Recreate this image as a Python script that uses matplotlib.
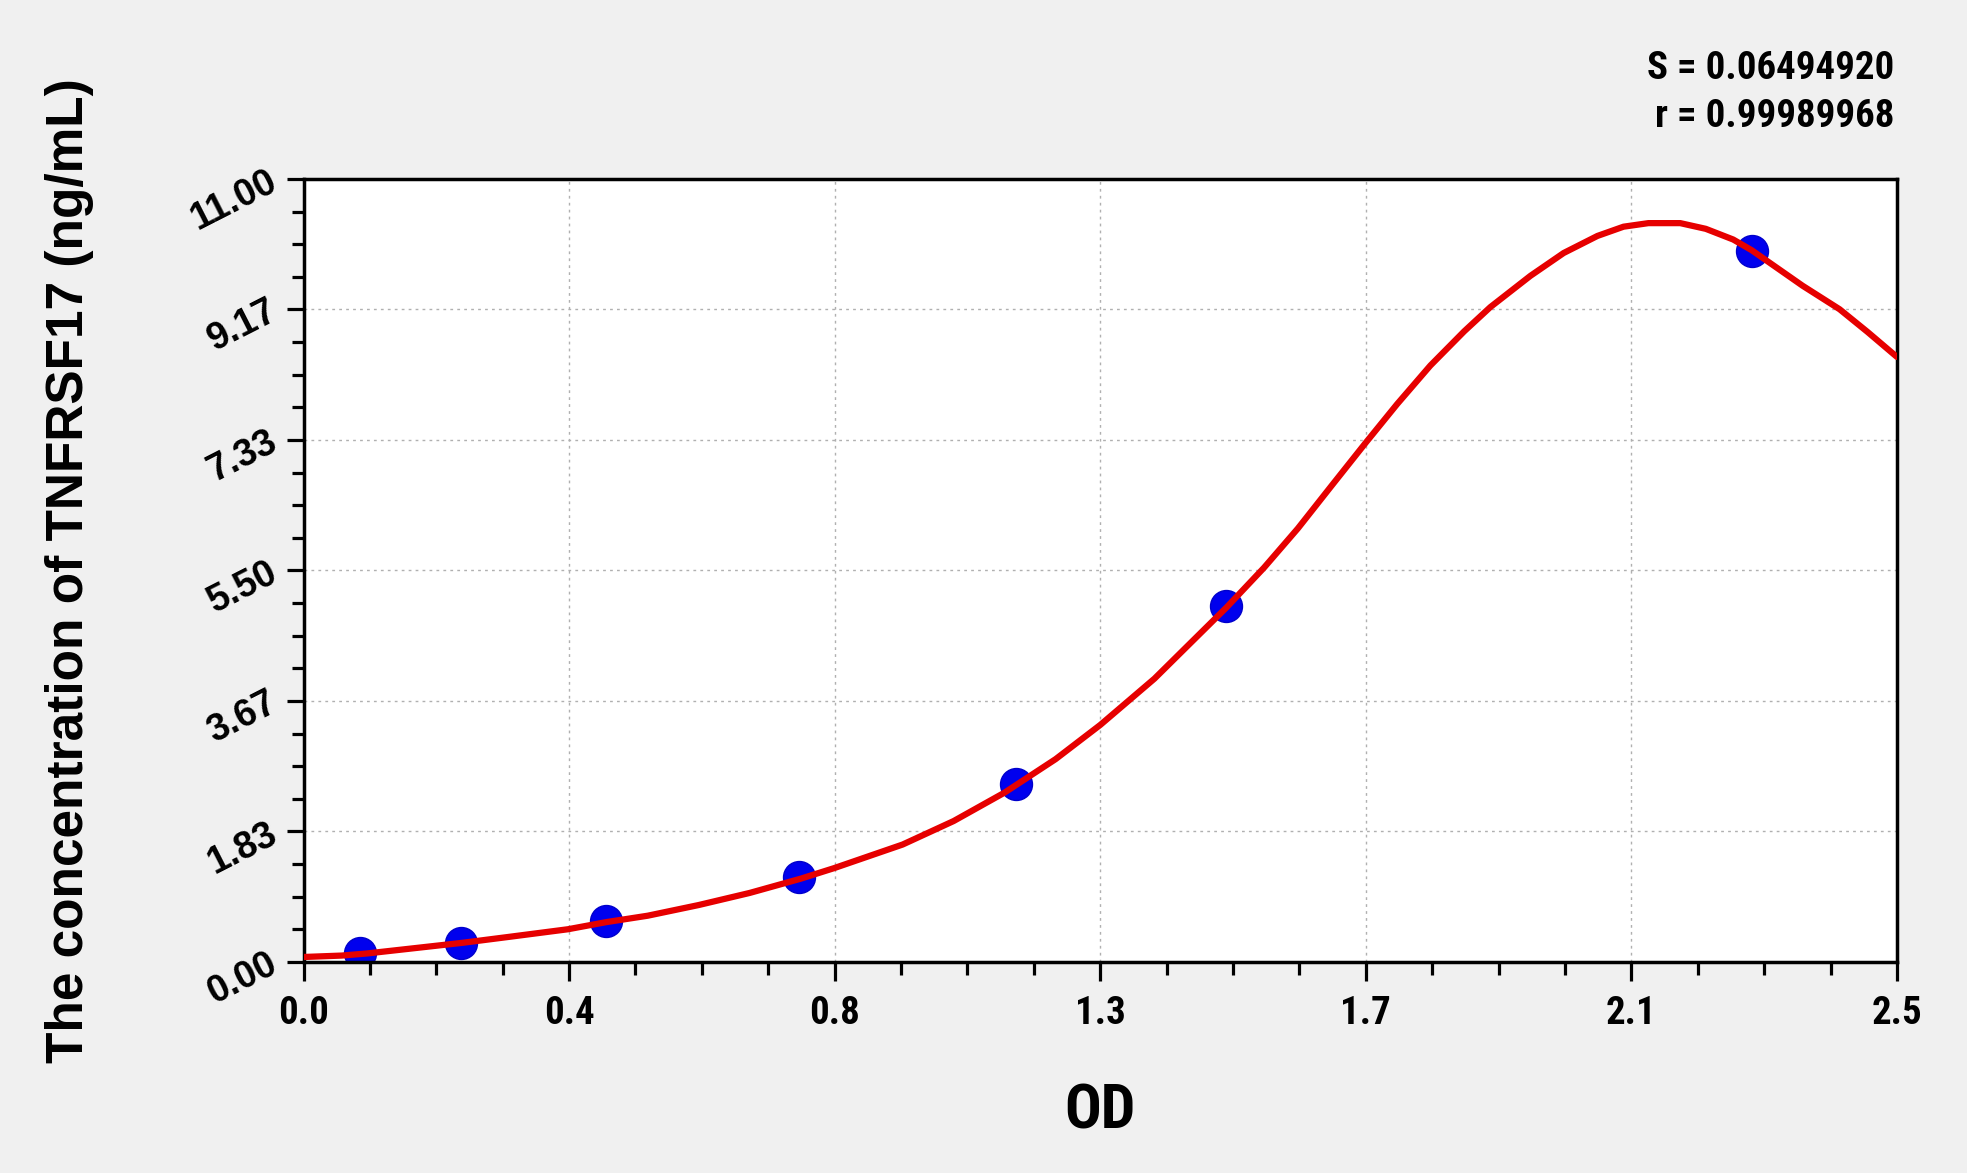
import matplotlib.pyplot as plt
from matplotlib.ticker import FixedLocator, MultipleLocator

# standard points
od = [0.088, 0.247, 0.475, 0.777, 1.118, 1.448, 2.272]
conc = [0.12, 0.26, 0.57, 1.20, 2.50, 5.00, 9.99]

# fitted curve as drawn in the chart
curve_od = [0.0, 0.06, 0.10, 0.19, 0.25, 0.32, 0.415, 0.475, 0.54, 0.62, 0.70,
            0.78, 0.833, 0.94, 1.02, 1.10, 1.18, 1.25, 1.335, 1.448, 1.507,
            1.56, 1.612, 1.667, 1.716, 1.768, 1.821, 1.862, 1.925, 1.977, 2.03,
            2.071, 2.11, 2.16, 2.20, 2.243, 2.272, 2.352, 2.41, 2.454, 2.5]
curve_conc = [0.07, 0.09, 0.12, 0.21, 0.27, 0.35, 0.46, 0.56, 0.65, 0.80, 0.97,
              1.17, 1.32, 1.65, 1.98, 2.38, 2.85, 3.33, 3.98, 4.98, 5.54,
              6.09, 6.68, 7.30, 7.84, 8.38, 8.86, 9.20, 9.64, 9.96, 10.20,
              10.33, 10.38, 10.38, 10.30, 10.15, 10.00, 9.50, 9.17, 8.85, 8.50]

x_ticks = [0.0, 2.5 / 6, 2 * 2.5 / 6, 3 * 2.5 / 6, 4 * 2.5 / 6, 5 * 2.5 / 6, 2.5]
x_labels = ['0.0', '0.4', '0.8', '1.3', '1.7', '2.1', '2.5']
y_ticks = [0.0, 11 / 6, 2 * 11 / 6, 3 * 11 / 6, 4 * 11 / 6, 5 * 11 / 6, 11.0]
y_labels = ['0.00', '1.83', '3.67', '5.50', '7.33', '9.17', '11.00']

narrow = ['Roboto Condensed', 'Liberation Sans', 'DejaVu Sans']
wide = ['Liberation Sans', 'DejaVu Sans']

fig = plt.figure(figsize=(19.67, 11.73), dpi=100, facecolor='#f0f0f0')
ax = fig.add_axes([0.1543, 0.1799, 0.9644 - 0.1543, 0.8474 - 0.1799])
ax.set_facecolor('white')

ax.plot(curve_od, curve_conc, color='#e60000', lw=4.5, zorder=3,
        solid_joinstyle='round', solid_capstyle='round')
ax.plot(od, conc, 'o', color='#0000ee', ms=23, mec='#0000cc', zorder=2)

ax.set_xlim(0, 2.5)
ax.set_ylim(0, 11)
ax.xaxis.set_major_locator(FixedLocator(x_ticks))
ax.yaxis.set_major_locator(FixedLocator(y_ticks))
ax.xaxis.set_minor_locator(MultipleLocator(2.5 / 24))
ax.yaxis.set_minor_locator(MultipleLocator(11 / 24))
ax.set_xticklabels(x_labels, family=narrow, fontweight='bold', fontsize=28)
ax.set_yticklabels(y_labels, family=wide, fontweight='bold', fontsize=27,
                   rotation=27, ha='right', va='center', rotation_mode='anchor')

ax.grid(True, which='major', color='#b0b0b0', ls=(0, (2, 3)), lw=1)
for s in ax.spines.values():
    s.set_linewidth(2.5)
ax.tick_params(which='major', direction='out', length=14, width=2.3, pad=10)
ax.tick_params(which='minor', direction='out', length=9.5, width=2.3)
ax.tick_params(axis='y', which='major', length=12.5, pad=8)
ax.tick_params(axis='y', which='minor', length=9)

ax.set_xlabel('OD', family=narrow, fontweight='bold', fontsize=44, labelpad=36)
ax.set_ylabel('The concentration of TNFRSF17 (ng/mL)', family=wide,
              fontweight='bold', fontsize=37)
ax.yaxis.set_label_coords(-0.1315, 0.5)

fig.text(0.963, 1 - 79 / 1173, 'S = 0.06494920', family=narrow, fontweight='bold',
         fontsize=28, ha='right', va='baseline')
fig.text(0.963, 1 - 127 / 1173, 'r = 0.99989968', family=narrow, fontweight='bold',
         fontsize=28, ha='right', va='baseline')

fig.savefig('out.png', dpi=100, facecolor=fig.get_facecolor())
